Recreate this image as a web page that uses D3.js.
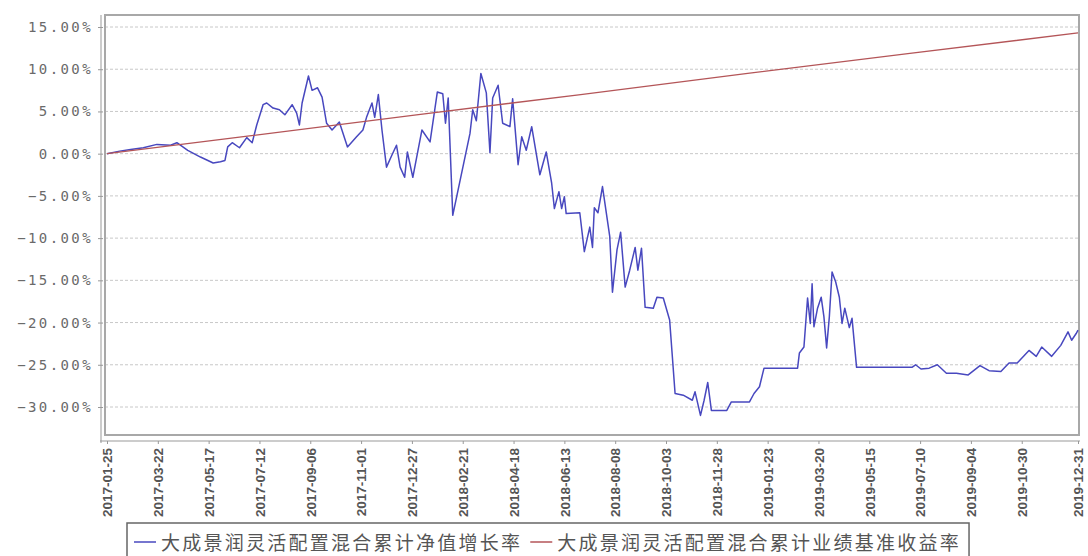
<!DOCTYPE html>
<html>
<head>
<meta charset="utf-8">
<script src="https://cdn.jsdelivr.net/npm/d3@7"></script>
<style>
body { margin: 0; background: #fff; }
</style>
</head>
<body>
<svg id="chart" width="1088" height="556"></svg>
<script>
// series names
var seriesNames = ["大成景润灵活配置混合累计净值增长率", "大成景润灵活配置混合累计业绩基准收益率"];

// fund cumulative growth (%)
var navDates = ["2017-01-25","2017-02-08","2017-02-20","2017-03-06","2017-03-21","2017-04-05","2017-04-12","2017-04-24",
  "2017-05-08","2017-05-22","2017-05-30","2017-06-04","2017-06-07","2017-06-12","2017-06-20","2017-06-28","2017-07-04",
  "2017-07-09","2017-07-16","2017-07-20","2017-07-27","2017-08-03","2017-08-09","2017-08-17","2017-08-22","2017-08-25",
  "2017-08-28","2017-09-04","2017-09-08","2017-09-14","2017-09-19","2017-09-24","2017-09-30","2017-10-08","2017-10-17",
  "2017-10-27","2017-11-03","2017-11-07","2017-11-13","2017-11-16","2017-11-20","2017-11-24","2017-11-29","2017-12-05",
  "2017-12-10","2017-12-14","2017-12-19","2017-12-22","2017-12-28","2018-01-07","2018-01-16","2018-01-24","2018-01-30",
  "2018-02-02","2018-02-05","2018-02-10","2018-03-01","2018-03-04","2018-03-08","2018-03-13","2018-03-19","2018-03-23",
  "2018-03-26","2018-04-01","2018-04-06","2018-04-14","2018-04-17","2018-04-23","2018-04-27","2018-05-02","2018-05-08",
  "2018-05-17","2018-05-24","2018-05-30","2018-06-02","2018-06-07","2018-06-10","2018-06-13","2018-06-15","2018-06-30",
  "2018-07-05","2018-07-11","2018-07-14","2018-07-16","2018-07-20","2018-07-25","2018-08-02","2018-08-05","2018-08-10",
  "2018-08-14","2018-08-19","2018-08-24","2018-08-30","2018-09-02","2018-09-06","2018-09-10","2018-09-19","2018-09-23",
  "2018-09-30","2018-10-07","2018-10-13","2018-10-22","2018-11-01","2018-11-04","2018-11-10","2018-11-14","2018-11-18",
  "2018-11-22","2018-12-09","2018-12-14","2019-01-03","2019-01-08","2019-01-14","2019-01-19","2019-02-25","2019-02-27",
  "2019-03-04","2019-03-08","2019-03-11","2019-03-13","2019-03-15","2019-03-19","2019-03-23","2019-03-26","2019-03-29",
  "2019-04-01","2019-04-04","2019-04-08","2019-04-12","2019-04-15","2019-04-18","2019-04-23","2019-04-26","2019-05-01",
  "2019-07-01","2019-07-05","2019-07-11","2019-07-20","2019-07-29","2019-08-08","2019-08-19","2019-09-01","2019-09-14",
  "2019-09-24","2019-10-07","2019-10-16","2019-10-25","2019-11-07","2019-11-15","2019-11-21","2019-12-02","2019-12-12",
  "2019-12-20","2019-12-24","2019-12-29","2019-12-31"];
var navValues = [0,0.3,0.5,0.7,1.1,1.0,1.3,0.4,
  -0.4,-1.1,-0.95,-0.8,0.8,1.3,0.7,1.9,1.3,
  3.4,5.8,6.0,5.4,5.2,4.6,5.8,4.8,3.4,
  6.0,9.2,7.5,7.8,6.7,3.6,2.8,3.75,0.8,
  2.0,2.8,4.3,6.0,4.3,7.0,2.8,-1.6,-0.15,
  1.0,-1.6,-2.8,0.2,-2.8,2.8,1.4,7.3,7.1,
  3.6,6.6,-7.3,2.4,5.2,3.9,9.5,7.2,0.1,
  6.6,8.1,3.6,3.2,6.5,-1.3,2.0,0.4,3.2,
  -2.5,0.2,-3.5,-6.5,-4.5,-6.5,-5.1,-7.1,-7.0,
  -11.6,-8.7,-11.1,-6.4,-7.0,-3.9,-9.8,-16.4,-11.4,
  -9.3,-15.8,-13.8,-11.1,-13.8,-11.2,-18.2,-18.3,-17.0,
  -17.1,-19.7,-28.4,-28.6,-29.2,-28.2,-31.0,-29.2,-27.1,
  -30.4,-30.4,-29.4,-29.4,-28.4,-27.6,-25.4,-25.4,-23.6,
  -22.9,-17.1,-20.1,-15.4,-20.5,-18.3,-17.0,-19.3,-23.0,
  -19.3,-14.0,-15.2,-17.0,-20.1,-18.3,-20.6,-19.5,-25.3,
  -25.3,-25.0,-25.5,-25.4,-25.0,-26.0,-26.0,-26.2,-25.1,
  -25.7,-25.8,-24.8,-24.8,-23.3,-24.0,-22.9,-24.0,-22.7,
  -21.1,-22.1,-21.3,-20.9];

// benchmark cumulative return (%)
var benchDates = ["2017-01-25","2017-07-01","2018-01-01","2018-07-01","2019-01-01","2019-07-01","2019-12-31"];
var benchValues = [0, 2.1, 4.6, 7.0, 9.5, 11.9, 14.3];

var yTicks = [15, 10, 5, 0, -5, -10, -15, -20, -25, -30];
var xTickLabels = ["2017-01-25","2017-03-22","2017-05-17","2017-07-12","2017-09-06","2017-11-01","2017-12-27",
  "2018-02-21","2018-04-18","2018-06-13","2018-08-08","2018-10-03","2018-11-28","2019-01-23","2019-03-20",
  "2019-05-15","2019-07-10","2019-09-04","2019-10-30","2019-12-31"];

var parseDate = d3.timeParse("%Y-%m-%d");
var svg = d3.select("#chart");

var frame = { left: 105, top: 15, right: 1079, bottom: 435 };

var x = d3.scaleTime()
  .domain([parseDate("2017-01-25"), parseDate("2019-12-31")])
  .range([107, 1078]);
var y = d3.scaleLinear()
  .domain([-30, 15])
  .range([407, 27]);

// grid lines
svg.append("g").selectAll("line")
  .data(yTicks)
  .enter().append("line")
  .attr("x1", frame.left).attr("x2", frame.right)
  .attr("y1", function(d){ return y(d); })
  .attr("y2", function(d){ return y(d); })
  .attr("stroke", "#c8c8c8")
  .attr("stroke-dasharray", "3,2");

// frame
svg.append("rect")
  .attr("x", frame.left).attr("y", frame.top)
  .attr("width", frame.right - frame.left)
  .attr("height", frame.bottom - frame.top)
  .attr("fill", "none")
  .attr("stroke", "#a8a8a8")
  .attr("stroke-width", 2);

// y axis
var yAxis = d3.axisLeft(y)
  .tickValues(yTicks)
  .tickSize(4)
  .tickFormat(function(d){ return d3.format(".2f")(d) + "%"; });
var gy = svg.append("g").attr("transform", "translate(101,0)").call(yAxis);
gy.select(".domain").attr("d", "M0," + frame.top + "V443").attr("stroke", "#999");
gy.selectAll(".tick line").attr("stroke", "#999").attr("x2", 2).attr("x1", -3);
gy.selectAll(".tick text")
  .attr("x", -8)
  .attr("fill", "#6a6a6a")
  .style("font-family", "'DejaVu Sans Mono', monospace")
  .style("font-size", "14px")
  .style("letter-spacing", "2.4px");

// x axis
var xAxis = d3.axisBottom(x)
  .tickValues(xTickLabels.map(parseDate))
  .tickSize(3)
  .tickFormat(d3.timeFormat("%Y-%m-%d"));
var gx = svg.append("g").attr("transform", "translate(0,441)").call(xAxis);
gx.select(".domain").attr("d", "M100,0H1080").attr("stroke", "#999");
gx.selectAll(".tick line").attr("stroke", "#999");
gx.selectAll(".tick text")
  .attr("transform", "rotate(-90)")
  .attr("x", -7)
  .attr("y", 0)
  .attr("dy", "0.35em")
  .attr("text-anchor", "end")
  .attr("fill", "#555")
  .style("font-family", "'Liberation Sans', Arial, sans-serif")
  .style("font-weight", "bold")
  .style("font-size", "13.5px");

// lines
var line = d3.line()
  .x(function(d){ return x(d[0]); })
  .y(function(d){ return y(d[1]); });

var navData = navDates.map(function(d, i){ return [parseDate(d), navValues[i]]; });
var benchData = benchDates.map(function(d, i){ return [parseDate(d), benchValues[i]]; });

svg.append("path")
  .datum(navData)
  .attr("d", line)
  .attr("fill", "none")
  .attr("stroke", "#4848bf")
  .attr("stroke-width", 1.5)
  .attr("stroke-linejoin", "round");

svg.append("path")
  .datum(benchData)
  .attr("d", line)
  .attr("fill", "none")
  .attr("stroke", "#b45558")
  .attr("stroke-width", 1.3);

// legend
var colors = ["#4848bf", "#b45558"];
var legend = svg.append("g");
var box = legend.append("rect")
  .attr("x", 127).attr("y", 523)
  .attr("height", 40)
  .attr("fill", "#fff")
  .attr("stroke", "#666")
  .attr("stroke-width", 1.5);
var cx = 134;
seriesNames.forEach(function(name, i){
  legend.append("line")
    .attr("x1", cx).attr("x2", cx + 22)
    .attr("y1", 542).attr("y2", 542)
    .attr("stroke", colors[i])
    .attr("stroke-width", 1.5);
  var t = legend.append("text")
    .attr("x", cx + 27).attr("y", 550)
    .attr("fill", "#555")
    .style("font-family", "'Noto Sans CJK SC', sans-serif")
    .style("font-size", "19px")
    .style("letter-spacing", "2.25px")
    .text(name);
  cx = cx + 27 + t.node().getComputedTextLength() + 8;
});
box.attr("width", cx - 127);
</script>
</body>
</html>
